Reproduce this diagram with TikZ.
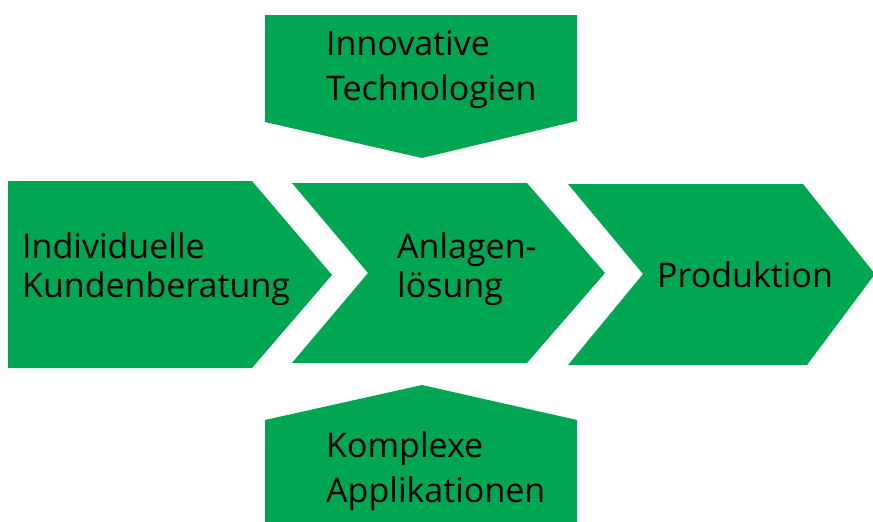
\documentclass[tikz,border=0pt]{standalone}
\usepackage{fontspec}
\setmainfont{Open Sans}
\definecolor{boxgreen}{HTML}{00A651}
\begin{document}
\begin{tikzpicture}[x=1pt,y=-1pt]
\tikzset{
  shapebox/.style={fill=boxgreen, draw=none},
  lbl/.style={inner sep=0pt, align=left, anchor=base west, text=black},
  narrow/.style={font=\fontsize{34}{39}\selectfont},
  wide/.style={font=\fontsize{34}{45}\selectfont}
}
\useasboundingbox (0,0) rectangle (873,522);
\fill[white] (0,0) rectangle (873,522);
\begin{scope}
\clip (0,0) rectangle (873,522);
\fill[shapebox] (8,181) -- (252,181) -- (332,275) -- (252,368) -- (8,368) -- cycle;
\fill[shapebox] (292,183) -- (527,183) -- (605,273) -- (527,363) -- (292,363) -- (368,273) -- cycle;
\fill[shapebox] (568,184) -- (803,184) -- (875,274) -- (807,365) -- (568,365) -- (643,274) -- cycle;
\fill[shapebox] (265,15) -- (577,15) -- (577,121) -- (422,158) -- (265,122) -- cycle;
\fill[shapebox] (422,385) -- (577,420) -- (577,530) -- (265,530) -- (265,420) -- cycle;
\end{scope}
\node[lbl, narrow] (kb) at (22,297) {Individuelle\\Kundenberatung};
\node[lbl, narrow] (al) at (397,297) {Anlagen-\\lösung};
\node[lbl, narrow] (pr) at (657,287) {Produktion};
\node[lbl, wide] (it) at (326,100) {Innovative\\Technologien};
\node[lbl, wide] (ka) at (326,502) {Komplexe\\Applikationen};
\end{tikzpicture}
\end{document}
